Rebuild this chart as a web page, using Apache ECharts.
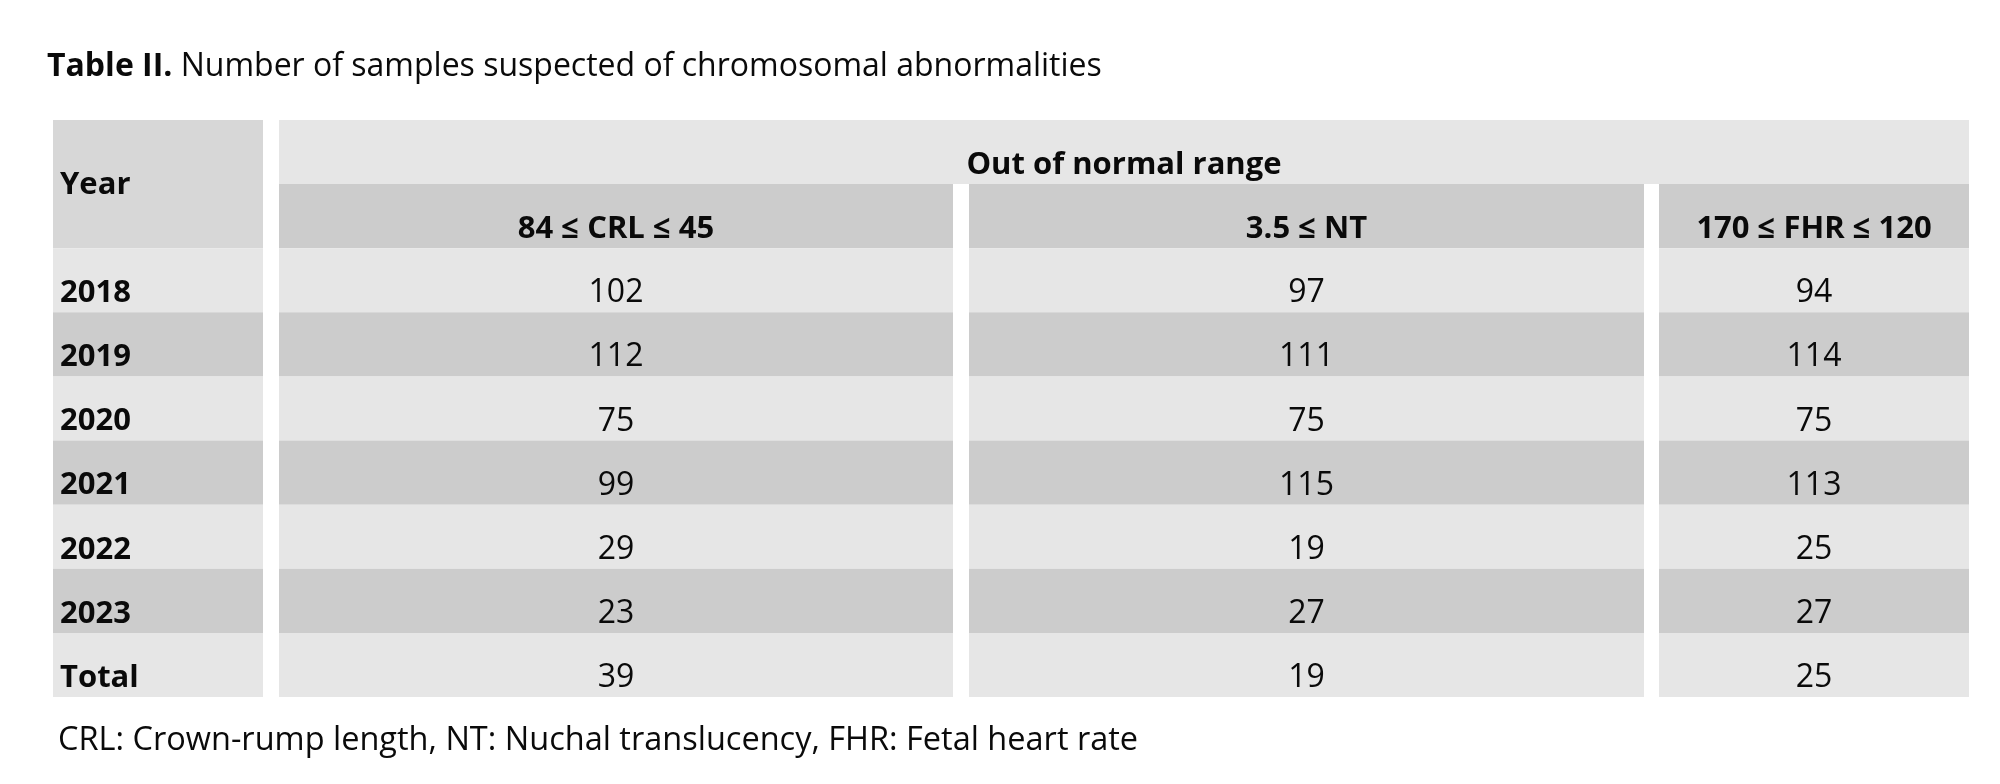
<!DOCTYPE html>
<html>
<head>
<meta charset="utf-8">
<script src="https://cdn.jsdelivr.net/npm/echarts@6/dist/echarts.min.js"></script>
<style>
html,body{margin:0;padding:0;background:#fff;}
#x1{width:2000px;height:784px;}
</style>
</head>
<body>
<div id="x1"></div>
<script>
var years = ['2018', '2019', '2020', '2021', '2022', '2023', 'Total'];
var crl = [102, 112, 75, 99, 29, 23, 39];
var nt = [97, 111, 75, 115, 19, 27, 19];
var fhr = [94, 114, 75, 113, 25, 27, 25];
var colHeads = ['84 \u2264 CRL \u2264 45', '3.5 \u2264 NT', '170 \u2264 FHR \u2264 120'];
var groupHead = 'Out of normal range';
var yearHead = 'Year';

// column layout, in table units (x axis)
var cols = [[0, 210], [226, 900], [916, 1591], [1606, 1916]];
var light = '#e6e6e6', dark = '#cccccc', mid = '#d7d7d7';
var font = '"Open Sans", Lato, sans-serif';

var rowKeys = ['h1', 'h2'].concat(years);
var cells = [];
// header cells
cells.push({x0: cols[0][0], x1: cols[0][1], r0: 0, r1: 1, text: yearHead, fill: mid, bold: true, left: true, dy: 1});
cells.push({x0: cols[1][0], x1: cols[3][1], r0: 0, r1: 0, text: groupHead, fill: light, bold: true});
colHeads.forEach(function (h, i) {
	cells.push({x0: cols[i + 1][0], x1: cols[i + 1][1], r0: 1, r1: 1, text: h, fill: dark, bold: true});
});
// body
var series = [crl, nt, fhr];
years.forEach(function (y, r) {
	var fill = r % 2 == 0 ? light : dark;
	cells.push({x0: cols[0][0], x1: cols[0][1], r0: r + 2, r1: r + 2, text: y, fill: fill, bold: true, left: true});
	series.forEach(function (s, i) {
		cells.push({x0: cols[i + 1][0], x1: cols[i + 1][1], r0: r + 2, r1: r + 2, text: String(s[r]), fill: fill, bold: false});
	});
});

var data = cells.map(function (c) { return [c.x0, c.x1, c.r0, c.r1]; });

function renderItem(params, api) {
	var c = cells[params.dataIndex];
	var band = api.size([0, 1])[1];
	var p0 = api.coord([api.value(0), api.value(2)]);
	var p1 = api.coord([api.value(1), api.value(3)]);
	var top = p0[1] - band / 2, bottom = p1[1] + band / 2;
	var x = c.left ? p0[0] + 7 : (p0[0] + p1[0]) / 2;
	return {
		type: 'group',
		children: [{
			type: 'rect',
			shape: {x: p0[0], y: top, width: p1[0] - p0[0], height: bottom - top},
			style: {fill: c.fill}
		}, {
			type: 'text',
			x: x,
			y: (top + bottom) / 2 + (c.dy != null ? c.dy : 13),
			style: {
				text: c.text,
				fill: '#0a0a0a',
				font: (c.bold ? 'bold 31px ' : '32px ') + font,
				textAlign: c.left ? 'left' : 'center',
				textVerticalAlign: 'middle'
			}
		}]
	};
}

var myChart = echarts.init(document.getElementById('x1'));
var option = {
	backgroundColor: '#fff',
	animation: false,
	title: [{
		text: '{b|Table II.} Number of samples suspected of chromosomal abnormalities',
		left: 42,
		top: 46,
		textStyle: {
			fontFamily: font, fontSize: 32, fontWeight: 'normal', color: '#0a0a0a',
			rich: {b: {fontFamily: font, fontSize: 32, fontWeight: 'bold', color: '#0a0a0a'}}
		}
	}, {
		text: 'CRL: Crown-rump length, NT: Nuchal translucency, FHR: Fetal heart rate',
		left: 53,
		top: 719,
		textStyle: {fontFamily: font, fontSize: 32.5, fontWeight: 'normal', color: '#0a0a0a'}
	}],
	grid: {left: 53, right: 31, top: 120, bottom: 87},
	xAxis: {type: 'value', min: 0, max: 1916, show: false},
	yAxis: {type: 'category', data: rowKeys, inverse: true, show: false},
	series: [{
		type: 'custom',
		renderItem: renderItem,
		encode: {x: [0, 1], y: [2, 3]},
		data: data
	}]
};
myChart.setOption(option);
</script>
</body>
</html>
